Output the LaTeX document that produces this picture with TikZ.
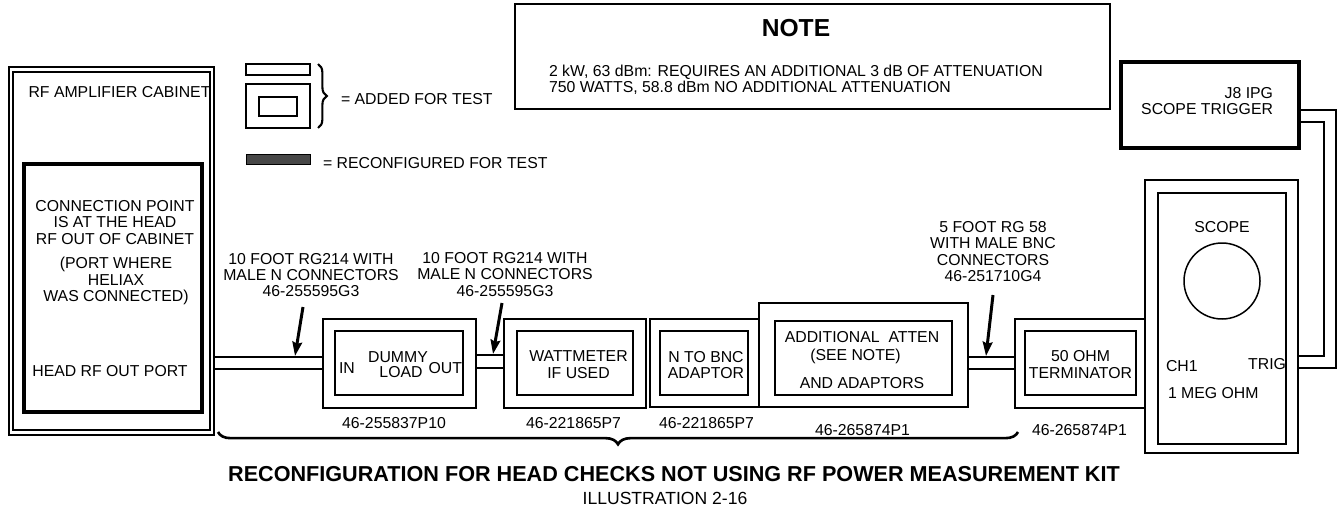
\documentclass[tikz,border=0pt]{standalone}
\usepackage{fontspec}
\setmainfont{Liberation Sans}
\usepackage{tikz}
\usepackage{xcolor}
\usetikzlibrary{arrows.meta,decorations.pathreplacing}

\begin{document}
\begin{tikzpicture}[x=0.02cm,y=-0.02cm,
  every node/.style={font=\fontsize{9}{9.3}\selectfont,inner sep=0pt,outer sep=0pt},
  sz/.style 2 args={minimum width=#1*0.02cm,minimum height=#2*0.02cm},
  mybox/.style={draw,line width=0.85pt},
  mycable/.style={line width=1.1pt},
  myarrow/.style={line width=1.7pt,-{Stealth[length=8pt,width=5.5pt,inset=1pt]}},
  mybrace/.style={decorate,line width=1.5pt}]
\definecolor{darkbar}{HTML}{474747}
\useasboundingbox (0,0) rectangle (1338,517);

% cabinet
\node[mybox,sz={205}{368}] (cab) at (111.5,251) {};
\node[mybox,sz={197}{358}] (cabin) at (111.5,251) {};
\node[draw,line width=2pt,sz={178}{248}] (conn) at (113,288) {};
\node (cabtxt) at (119.5,92) {RF AMPLIFIER CABINET};
\node[align=center] (conntxt) at (115,222.5) {CONNECTION POINT\\IS AT THE HEAD\\RF OUT OF CABINET};
\node[align=center] (porttxt) at (116,281) {(PORT WHERE\\HELIAX\\WAS CONNECTED)};
\node (headtxt) at (110,371) {HEAD RF OUT PORT};

% legend
\node[mybox,sz={64}{11}] (addbar) at (278,69.5) {};
\node[mybox,sz={64}{44}] (addbox) at (278,106) {};
\node[mybox,sz={38}{19}] (addin) at (278,106.5) {};
\draw[mybrace,line width=1.2pt,decoration={brace,amplitude=5pt}] (318,64) -- (318,128);
\node[anchor=west] (addtxt) at (341,99) {= ADDED FOR TEST};
\node[fill=darkbar,draw,line width=0.5pt,sz={64}{10}] (rebar) at (278,159) {};
\node[anchor=west] (retxt) at (323,163) {= RECONFIGURED FOR TEST};

% note
\node[draw,line width=1.2pt,sz={595}{105}] (note) at (812.5,56.5) {};
\node[font=\fontsize{14}{14}\selectfont\bfseries] (notetitle) at (796,28) {NOTE};
\node[anchor=west,align=left] (notetxt) at (549,80) {2 kW, 63 dBm: REQUIRES AN ADDITIONAL 3 dB OF ATTENUATION\\750 WATTS, 58.8 dBm NO ADDITIONAL ATTENUATION};

% trigger source
\node[draw,line width=1.8pt,sz={178}{86}] (j8) at (1210,105) {};
\node[anchor=east,align=right] (j8txt) at (1273,101) {J8 IPG\\SCOPE TRIGGER};

% chain of parts
\node[mybox,sz={153}{89}] (dummy) at (399.5,363.5) {};
\node[mybox,sz={128}{64}] (dummyin) at (399,363) {};
\node[anchor=west] (intxt) at (339,368) {IN};
\node (dummytxt) at (398,357) {DUMMY};
\node (loadtxt) at (401,372) {LOAD};
\node[anchor=east] (outtxt) at (462,368) {OUT};

\node[mybox,sz={142}{89}] (watt) at (575,363.5) {};
\node[mybox,sz={116}{64}] (wattin) at (575,363) {};
\node[align=center] (watttxt) at (578.5,364.5) {WATTMETER\\IF USED};

\node[mybox,sz={109}{88}] (nbnc) at (704.5,363) {};
\node[mybox,sz={88}{64}] (nbncin) at (704,363) {};
\node[align=center] (nbnctxt) at (706,365) {N TO BNC\\ADAPTOR};

\node[mybox,sz={209}{104}] (atten) at (863.5,355) {};
\node[mybox,sz={177}{74}] (attenin) at (863.5,358) {};
\node (attentxt) at (862,337) {ADDITIONAL\ \ ATTEN};
\node (seetxt) at (855.5,356) {(SEE NOTE)};
\node (adapttxt) at (862,383) {AND ADAPTORS};

\node[mybox,sz={130}{89}] (term) at (1080,363.5) {};
\node[mybox,sz={111}{64}] (termin) at (1080.5,363) {};
\node[align=center] (termtxt) at (1080.5,364.5) {50 OHM\\TERMINATOR};

\node[mybox,sz={153}{273}] (scope) at (1221.5,316.5) {};
\node[mybox,sz={128}{251}] (scopein) at (1222,318.5) {};
\node (scopetxt) at (1222,227) {SCOPE};
\node[draw,circle,line width=0.85pt,minimum size=76*0.02cm] (crt) at (1222,281) {};
\node[anchor=west] (chtxt) at (1166,366) {CH1};
\node[anchor=east] (trigtxt) at (1286,364) {TRIG};
\node[anchor=west] (megtxt) at (1168,393) {1 MEG OHM};

% part numbers
\foreach \pn/\px/\py [count=\i] in {46-255837P10/394/423,46-221865P7/573.5/423,
    46-221865P7/706.5/423,46-265874P1/862.5/430,46-265874P1/1079.5/430}
  {\node (part\i) at (\px,\py) {\pn};}

% cables
\draw[mycable] (cab.east |- 0,357) -- (dummy.west |- 0,357);
\draw[mycable] (cab.east |- 0,369) -- (dummy.west |- 0,369);
\draw[mycable] (dummy.east |- 0,355) -- (watt.west |- 0,355);
\draw[mycable] (dummy.east |- 0,368) -- (watt.west |- 0,368);
\draw[mycable] (atten.east |- 0,357) -- (term.west |- 0,357);
\draw[mycable] (atten.east |- 0,369) -- (term.west |- 0,369);
\draw[mycable] (j8.east |- 0,110) -| (1336,368) -- (scope.east |- 0,368);
\draw[mycable] (j8.east |- 0,122) -| (1324,356) -- (scope.east |- 0,356);

% cable labels and pointers
\node[align=center] (rg1) at (311,275) {10 FOOT RG214 WITH\\MALE N CONNECTORS\\46-255595G3};
\node[align=center] (rg2) at (505,274.5) {10 FOOT RG214 WITH\\MALE N CONNECTORS\\46-255595G3};
\node[align=center] (rg3) at (993,251.5) {5 FOOT RG 58\\WITH MALE BNC\\CONNECTORS\\46-251710G4};
\coordinate (a1s) at (303,307);
\coordinate (a1e) at (295,356);
\coordinate (a2s) at (502,303);
\coordinate (a2e) at (493,354);
\coordinate (a3s) at (993,295);
\coordinate (a3e) at (986,356);
\draw[myarrow] (a1s) -- (a1e);
\draw[myarrow] (a2s) -- (a2e);
\draw[myarrow] (a3s) -- (a3e);

% bottom brace and caption
\draw[mybrace,decoration={brace,mirror,amplitude=7pt}] (218,432) -- (1018,432);
\node[font=\fontsize{12.3}{12.3}\selectfont\bfseries] (title) at (674,474) {RECONFIGURATION FOR HEAD CHECKS NOT USING RF POWER MEASUREMENT KIT};
\node[font=\fontsize{10}{10}\selectfont] (illus) at (665,498) {ILLUSTRATION 2-16};
\end{tikzpicture}
\end{document}
